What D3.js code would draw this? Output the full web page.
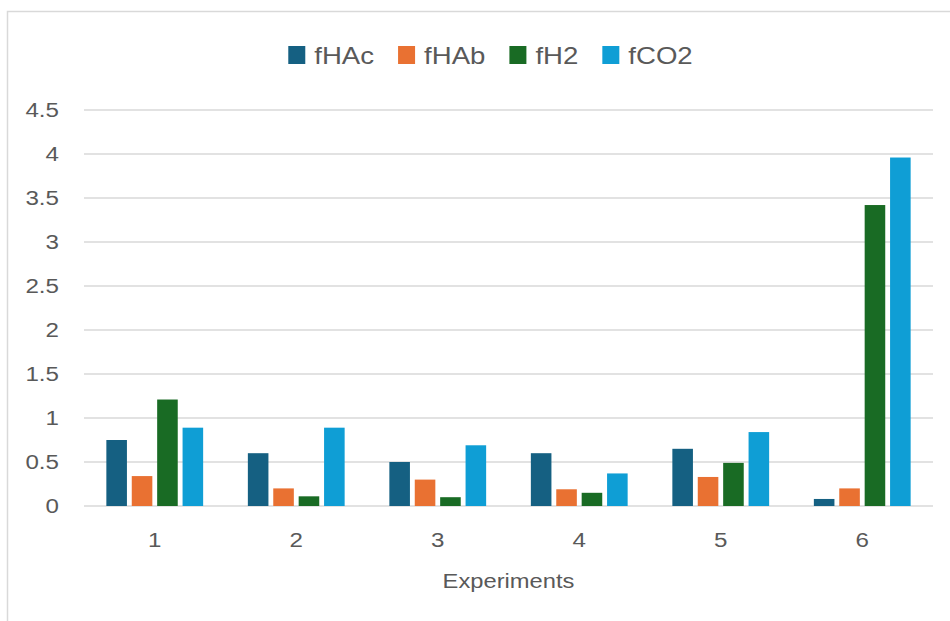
<!DOCTYPE html>
<html>
<head>
<meta charset="utf-8">
<script src="https://cdn.jsdelivr.net/npm/d3@7"></script>
<style>
  html, body { margin: 0; padding: 0; background: #ffffff; }
  svg { display: block; }
  text { font-family: "Liberation Sans", Arial, sans-serif; fill: #595959; }
</style>
</head>
<body>
<svg id="chart" width="950" height="621"></svg>
<script>
// Experiment categories and the four measured fractions per experiment
const categories = ["1", "2", "3", "4", "5", "6"];
const seriesNames = ["fHAc", "fHAb", "fH2", "fCO2"];
const fHAc = [0.75, 0.60, 0.50, 0.60, 0.65, 0.08];
const fHAb = [0.34, 0.20, 0.30, 0.19, 0.33, 0.20];
const fH2  = [1.21, 0.11, 0.10, 0.15, 0.49, 3.42];
const fCO2 = [0.89, 0.89, 0.69, 0.37, 0.84, 3.96];
const yTicks = [0, 0.5, 1, 1.5, 2, 2.5, 3, 3.5, 4, 4.5];
const xTitle = "Experiments";

const colors = ["#156082", "#E97132", "#196B24", "#0F9ED5"];
const seriesValues = [fHAc, fHAb, fH2, fCO2];

const svg = d3.select("#chart");

// chart area frame
svg.append("rect")
  .attr("x", 7.5).attr("y", 11.5)
  .attr("width", 1000).attr("height", 1000)
  .attr("fill", "none").attr("stroke", "#d9d9d9").attr("stroke-width", 1.5);

const plot = { left: 84, right: 933, top: 110, bottom: 506 };

const x0 = d3.scaleBand()
  .domain(categories)
  .range([plot.left, plot.right])
  .paddingInner(0.316)
  .paddingOuter(0.158);

const x1 = d3.scaleBand()
  .domain(seriesNames)
  .range([0, x0.bandwidth()])
  .paddingInner(0.19);

const y = d3.scaleLinear()
  .domain([0, 4.5])
  .range([plot.bottom, plot.top]);

const color = d3.scaleOrdinal().domain(seriesNames).range(colors);

// horizontal gridlines
svg.append("g")
  .selectAll("line")
  .data(yTicks)
  .join("line")
  .attr("x1", plot.left).attr("x2", plot.right)
  .attr("y1", d => y(d)).attr("y2", d => y(d))
  .attr("stroke", "#d9d9d9").attr("stroke-width", 1.5);

// y-axis labels
const yAxis = d3.axisLeft(y).tickValues(yTicks).tickSize(0).tickPadding(25)
  .tickFormat(d => String(d));
const gy = svg.append("g").attr("transform", `translate(${plot.left},0)`).call(yAxis);
gy.select(".domain").remove();
gy.selectAll(".tick text")
  .attr("font-size", 21)
  .attr("font-family", null)
  .attr("fill", "#595959")
  .each(function () {
    const t = d3.select(this);
    const xPos = +t.attr("x");
    t.attr("x", 0).attr("transform", `translate(${xPos},0) scale(1.15,1)`);
  });

// bars
const rows = categories.map((c, i) => ({
  cat: c,
  vals: seriesNames.map((s, j) => ({ key: s, value: seriesValues[j][i] }))
}));

svg.append("g")
  .selectAll("g")
  .data(rows)
  .join("g")
  .attr("transform", d => `translate(${x0(d.cat)},0)`)
  .selectAll("rect")
  .data(d => d.vals)
  .join("rect")
  .attr("x", d => x1(d.key))
  .attr("width", x1.bandwidth())
  .attr("y", d => y(d.value))
  .attr("height", d => y(0) - y(d.value))
  .attr("fill", d => color(d.key));

// x-axis labels
const xAxis = d3.axisBottom(x0).tickSize(0).tickPadding(0);
const gx = svg.append("g").attr("transform", `translate(0,${plot.bottom})`).call(xAxis);
gx.select(".domain").remove();
gx.selectAll(".tick text")
  .attr("font-size", 21)
  .attr("font-family", null)
  .attr("fill", "#595959")
  .attr("y", 0).attr("dy", null)
  .attr("transform", "translate(0,41) scale(1.15,1)");

// x-axis title
svg.append("text")
  .attr("transform", `translate(${(plot.left + plot.right) / 2},588) scale(1.13,1)`)
  .attr("text-anchor", "middle")
  .attr("font-size", 21)
  .text(xTitle);

// legend
const legend = svg.append("g");
let cursor = 0;
seriesNames.forEach((name, i) => {
  const item = legend.append("g").attr("transform", `translate(${cursor},0)`);
  item.append("rect")
    .attr("x", 0).attr("y", 46)
    .attr("width", 17).attr("height", 18)
    .attr("fill", color(name));
  const t = item.append("text")
    .attr("transform", "translate(26,64) scale(1.2,1)")
    .attr("font-size", 23)
    .text(name);
  const w = t.node().getComputedTextLength() * 1.2;
  cursor += 26 + w + 24;
});
const legendWidth = cursor - 24;
legend.attr("transform", `translate(${490.5 - legendWidth / 2},0)`);
</script>
</body>
</html>
